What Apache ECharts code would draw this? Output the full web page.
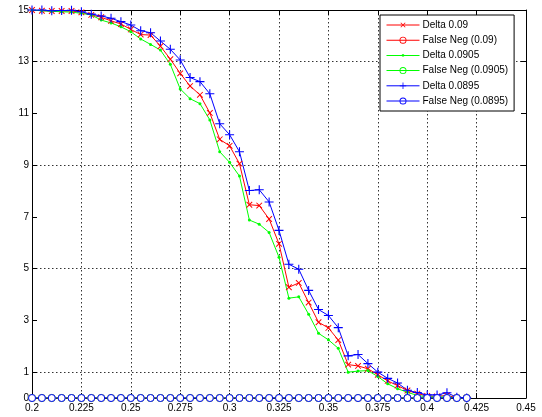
<!DOCTYPE html>
<html>
<head>
<meta charset="utf-8">
<script src="https://cdn.jsdelivr.net/npm/echarts@6/dist/echarts.min.js"></script>
<style>
  html, body { margin: 0; padding: 0; background: #fff; }
  #chart { width: 542px; height: 417px; }
</style>
</head>
<body>
<div id="chart"></div>
<script>
// Threshold values (x) shared by every curve
const thresholds = [
  0.200, 0.205, 0.210, 0.215, 0.220, 0.225, 0.230, 0.235, 0.240, 0.245,
  0.250, 0.255, 0.260, 0.265, 0.270, 0.275, 0.280, 0.285, 0.290, 0.295,
  0.300, 0.305, 0.310, 0.315, 0.320, 0.325, 0.330, 0.335, 0.340, 0.345,
  0.350, 0.355, 0.360, 0.365, 0.370, 0.375, 0.380, 0.385, 0.390, 0.395,
  0.400, 0.405, 0.410, 0.415, 0.420
];

const delta090 = [
  15.00, 14.97, 14.96, 14.96, 14.96, 14.91, 14.81, 14.72, 14.58, 14.46,
  14.25, 14.05, 14.03, 13.60, 13.10, 12.55, 12.06, 11.72, 11.02, 10.00,
  9.75, 9.06, 7.47, 7.44, 6.92, 5.96, 4.28, 4.45, 3.69, 2.93,
  2.71, 2.24, 1.29, 1.24, 1.13, 0.90, 0.66, 0.48, 0.29, 0.17,
  0.08, 0.06, 0.10, 0.01, 0.00
];

const delta0905 = [
  15.00, 14.97, 14.95, 14.93, 14.92, 14.87, 14.81, 14.61, 14.50, 14.35,
  14.16, 13.88, 13.67, 13.45, 12.90, 11.95, 11.57, 11.38, 10.75, 9.52,
  9.11, 8.58, 6.88, 6.72, 6.40, 5.44, 3.86, 3.91, 3.24, 2.50,
  2.25, 1.92, 1.00, 1.04, 1.06, 0.83, 0.55, 0.36, 0.22, 0.10,
  0.04, 0.04, 0.04, 0.00, 0.00
];

const delta0895 = [
  15.00, 15.00, 14.97, 14.98, 14.99, 14.93, 14.84, 14.77, 14.68, 14.55,
  14.42, 14.20, 14.12, 13.80, 13.48, 13.07, 12.39, 12.23, 11.76, 10.60,
  10.18, 9.52, 8.02, 8.05, 7.58, 6.48, 5.17, 4.98, 4.16, 3.42,
  3.19, 2.72, 1.63, 1.68, 1.33, 1.00, 0.76, 0.58, 0.30, 0.21,
  0.12, 0.12, 0.20, 0.03, 0.00
];

// False negatives stay at zero over the whole range
const falseNeg090 = [
  0, 0, 0, 0, 0, 0, 0, 0, 0, 0, 0, 0, 0, 0, 0, 0, 0, 0, 0, 0, 0, 0, 0,
  0, 0, 0, 0, 0, 0, 0, 0, 0, 0, 0, 0, 0, 0, 0, 0, 0, 0, 0, 0, 0, 0
];
const falseNeg0905 = falseNeg090.slice();
const falseNeg0895 = falseNeg090.slice();

const seriesNames = [
  'Delta 0.09', 'False Neg (0.09)',
  'Delta 0.0905', 'False Neg (0.0905)',
  'Delta 0.0895', 'False Neg (0.0895)'
];

const xTicks = [0.2, 0.225, 0.25, 0.275, 0.3, 0.325, 0.35, 0.375, 0.4, 0.425, 0.45];
const yTicks = [0, 1, 3, 5, 7, 9, 11, 13, 15];

const RED = '#ff0000', GREEN = '#00ff00', BLUE = '#0000ff';
const FONT = 'Liberation Sans, Arial, Helvetica, sans-serif';

// thin "+" glyph; rotated 45 degrees it becomes the "x" marker
const PLUS = 'path://M4.4,0H5.6V4.4H10V5.6H5.6V10H4.4V5.6H0V4.4H4.4Z';
// legend glyphs: a thin line with a small dot / a thin ring in the middle
const LINE_DOT_ICON = 'path://M0,3.5H33V4.5H0Z M15.4,2.9H17.6V5.1H15.4Z';
const LINE_RING_ICON = 'path://M0,3.5H33V4.5H0Z ' +
  'M20,4A3.5,3.5 0 1,1 13,4A3.5,3.5 0 1,1 20,4Z ' +
  'M19.1,4A2.6,2.6 0 1,0 13.9,4A2.6,2.6 0 1,0 19.1,4Z';

const legendColors = {
  'False Neg (0.09)': RED,
  'False Neg (0.0905)': GREEN,
  'False Neg (0.0895)': BLUE
};

function legendItem(name) {
  if (name === 'Delta 0.0905') return { name: name, icon: LINE_DOT_ICON };
  if (legendColors[name]) {
    return {
      name: name,
      icon: LINE_RING_ICON,
      itemStyle: { color: legendColors[name], borderWidth: 0, borderColor: 'transparent' }
    };
  }
  return { name: name };
}

function pairs(ys) {
  return thresholds.map((x, i) => [x, ys[i]]);
}

function lineSeries(name, ys, color, symbol, size, rotate, empty) {
  return {
    name: name,
    type: 'line',
    data: pairs(ys),
    symbol: symbol,
    symbolSize: size,
    symbolRotate: rotate || 0,
    showAllSymbol: true,
    animation: false,
    lineStyle: { color: color, width: 1 },
    itemStyle: empty
      ? { color: '#fff', borderColor: color, borderWidth: 1 }
      : { color: color, borderWidth: 0 },
    emphasis: { disabled: true }
  };
}

const gridLine = {
  show: true,
  lineStyle: { color: ['transparent', '#333'], type: [1.5, 2.5], width: 1 }
};

const chart = echarts.init(document.getElementById('chart'), null, { renderer: 'canvas' });

chart.setOption({
  backgroundColor: '#fff',
  animation: false,
  grid: { left: 32, top: 10, width: 494, height: 388 },
  legend: {
    left: 380,
    top: 15,
    orient: 'vertical',
    data: seriesNames.map(legendItem),
    itemWidth: 33,
    itemHeight: 8,
    itemGap: 5.2,
    padding: [5, 6, 5, 6],
    backgroundColor: '#fff',
    borderColor: '#000',
    borderWidth: 1,
    borderRadius: 0,
    lineStyle: { width: 1 },
    textStyle: { fontFamily: FONT, fontSize: 10, color: '#000', padding: [0, 0, 0, -2] }
  },
  xAxis: [
    {
      type: 'value', min: 0.2, max: 0.45, interval: 0.025,
      axisLine: { show: true, onZero: false, lineStyle: { color: '#000', width: 1 } },
      axisTick: { show: true, inside: true, length: 5, lineStyle: { color: '#000' } },
      axisLabel: {
        fontFamily: FONT, fontSize: 10, color: '#000', margin: 5,
        customValues: xTicks,
        formatter: v => String(+v.toFixed(3))
      },
      splitLine: { show: true, lineStyle: { color: '#333', type: [1.5, 2.5], width: 1 } }
    },
    {
      type: 'value', min: 0.2, max: 0.45, interval: 0.025, position: 'top',
      axisLine: { show: true, onZero: false, lineStyle: { color: '#000', width: 1 } },
      axisTick: { show: true, inside: true, length: 5, lineStyle: { color: '#000' } },
      axisLabel: { show: false },
      splitLine: { show: false }
    }
  ],
  yAxis: [
    {
      type: 'value', min: 0, max: 15, interval: 1,
      axisLine: { show: true, onZero: false, lineStyle: { color: '#000', width: 1 } },
      axisTick: { show: true, inside: true, length: 5, lineStyle: { color: '#000' }, customValues: yTicks },
      axisLabel: {
        fontFamily: FONT, fontSize: 10, color: '#000', margin: 3,
        customValues: yTicks
      },
      splitLine: gridLine
    },
    {
      type: 'value', min: 0, max: 15, interval: 1, position: 'right',
      axisLine: { show: true, onZero: false, lineStyle: { color: '#000', width: 1 } },
      axisTick: { show: true, inside: true, length: 5, lineStyle: { color: '#000' }, customValues: yTicks },
      axisLabel: { show: false },
      splitLine: { show: false }
    }
  ],
  series: [
    lineSeries(seriesNames[0], delta090, RED, PLUS, 8, 45, false),
    lineSeries(seriesNames[1], falseNeg090, RED, 'circle', 7, 0, true),
    lineSeries(seriesNames[2], delta0905, GREEN, 'circle', 3, 0, false),
    lineSeries(seriesNames[3], falseNeg0905, GREEN, 'circle', 7, 0, true),
    lineSeries(seriesNames[4], delta0895, BLUE, PLUS, 9, 0, false),
    lineSeries(seriesNames[5], falseNeg0895, BLUE, 'circle', 7, 0, true)
  ]
});
</script>
</body>
</html>
